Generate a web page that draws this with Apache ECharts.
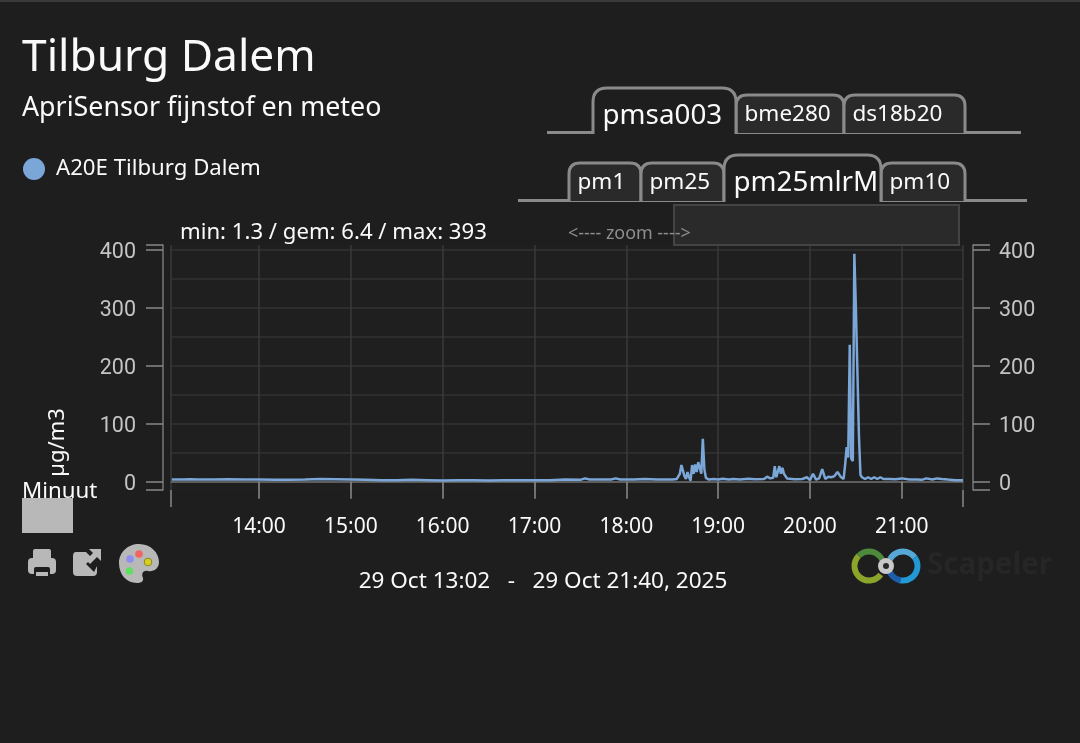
<!DOCTYPE html>
<html><head><meta charset="utf-8">
<style>html,body{margin:0;padding:0;background:#1e1e1e}#c{width:1080px;height:743px}</style>
<script src="https://cdn.jsdelivr.net/npm/echarts@6/dist/echarts.min.js"></script>
</head><body><div id="c"></div>
<script>
const day = '2025-10-29T';
const seriesName = 'A20E Tilburg Dalem';
const sampleTimes = ['13:03','13:10','13:15','13:20','13:30','13:40','13:50','14:00','14:10','14:20','14:30','14:40','14:50','15:00','15:10','15:20','15:30','15:40','15:50','16:00','16:10','16:20','16:30','16:40','16:50','17:00','17:10','17:20','17:30','17:33','17:36','17:50','17:53','17:56','18:05','18:12','18:20','18:30','18:33','18:35','18:36','18:37','18:38','18:39','18:40','18:41','18:42','18:43','18:44','18:45','18:46','18:47','18:48','18:49','18:50','18:51','18:52','18:54','18:57','19:00','19:03','19:07','19:10','19:14','19:20','19:24','19:30','19:32','19:34','19:36','19:37','19:38','19:39','19:40','19:41','19:42','19:43','19:45','19:50','19:55','19:58','20:00','20:02','20:04','20:06','20:08','20:10','20:12','20:14','20:16','20:18','20:20','20:22','20:23','20:24','20:25','20:26','20:27','20:28','20:29','20:30','20:31','20:32','20:33','20:34','20:36','20:38','20:40','20:42','20:44','20:46','20:48','20:52','20:56','21:00','21:05','21:10','21:13','21:16','21:20','21:23','21:26','21:30','21:35','21:40'];
const pmValues = [4,4,4.5,4,4,4.5,4,4,3.5,3.5,4,5,4.5,4,3.5,3,3,3.5,3,2.5,3,3,2.5,3,3,3,3,4,3.5,6,4,4,6,4,4,5,4,4,5,14,29,31,10,5,17,8,2,29,14,30,17,34,36,14,74,22,7,4,5,4,5.5,4,5,4,5.5,4.5,5,9,6,7,27,8,6,27,14,24,14,6,4.5,5,8,3,14,4,6,22,5,9,8,10,17,9,5,30,60,42,236,40,36,393,300,190,80,12,8,5,8,5,8,5,8,5,5,4.5,6,4,4,3.5,6,4,6,5,4,3,3,3];
const yTicks = [0,100,200,300,400];
const gridValues = [0,50,100,150,200,250,300,350,400];
const xStart = '13:02:30', xEnd = '21:40:00';
const yMin = -14, yMax = 408;
const subtitleText = 'ApriSensor fijnstof en meteo';
const statsText = 'min: 1.3 / gem: 6.4 / max: 393';
const rangeText = '29 Oct 13:02   -   29 Oct 21:40, 2025';

const ts = s => new Date(day + (s.length === 5 ? s + ':00' : s)).getTime();
const pad = n => String(n).padStart(2, '0');
const FONT = '"Noto Sans"';
const BG = '#1e1e1e';
const TXT = '#fafafa';

echarts.graphic.registerShape('svgd', echarts.graphic.extendShape({
  shape:{d:''},
  buildPath(ctx, shape){
    const parts = shape.d.match(/[MLQCZ]|-?[\d.]+/g) || [];
    let i = 0; const n = () => parseFloat(parts[i++]);
    while (i < parts.length) {
      const c = parts[i++];
      if (c === 'M') ctx.moveTo(n(), n());
      else if (c === 'L') ctx.lineTo(n(), n());
      else if (c === 'Q') ctx.quadraticCurveTo(n(), n(), n(), n());
      else if (c === 'C') ctx.bezierCurveTo(n(), n(), n(), n(), n(), n());
      else if (c === 'Z') ctx.closePath();
    }
  }
}));

function tabPath(x0, x1, top, bot, r) {
  return `M${x0} ${bot}L${x0} ${top + r}Q${x0} ${top} ${x0 + r} ${top}L${x1 - r} ${top}Q${x1} ${top} ${x1} ${top + r}L${x1} ${bot}`;
}
function tab(x0, x1, top, bot, label, active) {
  const size = active ? 27.8 : 22.5;
  return [
    {type:'svgd', shape:{d:tabPath(x0,x1,top,bot,active?14:11)}, style:{fill:active?BG:'#2a2a2a', stroke:'#8a8a8a', lineWidth:3}, z:active?12:11},
    {type:'text', x:x0+(active?9.5:8.5), y:(active?top+28:top+20), style:{text:label, font:`${size}px ${FONT}`, fill:TXT, textVerticalAlign:'middle'}, z:13}
  ];
}
const hline = (x0,x1,y) => ({type:'line', shape:{x1:x0,y1:y,x2:x1,y2:y}, style:{stroke:'#8a8a8a', lineWidth:3}, z:10});
const endTick = x => ({type:'line', shape:{x1:x,y1:490,x2:x,y2:507}, style:{stroke:'#8a8a8a', lineWidth:1.5}, z:4});
const ring = (cx,cy,a0,a1,color) => ({type:'arc', shape:{cx,cy,r:14.5,startAngle:a0,endAngle:a1}, style:{stroke:color, lineWidth:6, fill:null}, z:5});

const graphics = [
  {type:'rect', shape:{x:0,y:0,width:1080,height:2}, style:{fill:'#3a3a3a'}},
  hline(547,1021,132.5), hline(518,1027,200.5),
  endTick(171), endTick(963),
  ...tab(736,844,95,133,'bme280',false),
  ...tab(844,965,95,133,'ds18b20',false),
  ...tab(593,736,88,134,'pmsa003',true),
  ...tab(569,641,163,201,'pm1',false),
  ...tab(641,724,163,201,'pm25',false),
  ...tab(881,965,163,201,'pm10',false),
  ...tab(724,881,155,202,'pm25mlrM',true),
  {type:'rect', shape:{x:674,y:205,width:285,height:40}, style:{fill:'#2a2a2a', stroke:'#444', lineWidth:2}, z:14},
  {type:'text', x:568, y:234, style:{text:'<---- zoom ---->', font:`17.9px ${FONT}`, fill:'#8e8e8e', textVerticalAlign:'middle'}, z:15},
  {type:'text', x:180, y:233, style:{text:statsText, font:`22.15px ${FONT}`, fill:TXT, textVerticalAlign:'middle'}, z:15},
  {type:'text', x:22, y:491.5, style:{text:'Minuut', font:`22.3px ${FONT}`, fill:TXT, textVerticalAlign:'middle'}, z:15},
  {type:'rect', shape:{x:22,y:498,width:51,height:35}, style:{fill:'#b8b8b8'}, z:16},
  {type:'text', x:543, y:582, style:{text:rangeText, font:`22.5px ${FONT}`, fill:TXT, textAlign:'center', textVerticalAlign:'middle'}, z:15},
  // printer
  {type:'rect', shape:{x:33,y:549,width:18,height:12,r:2}, style:{fill:'#b8b8b8'}},
  {type:'rect', shape:{x:28,y:558,width:28,height:16,r:4}, style:{fill:'#b8b8b8'}},
  {type:'rect', shape:{x:34,y:567,width:16,height:9,r:2}, style:{fill:BG}, z:1},
  {type:'rect', shape:{x:36,y:572,width:12,height:4}, style:{fill:'#b8b8b8'}, z:2},
  // export
  {type:'svgd', shape:{d:'M76 552L86 552L92 558L86 564L94 572L97 566L97 572Q97 576 93 576L77 576Q73 576 73 572L73 556Q73 552 76 552Z'}, style:{fill:'#b8b8b8'}},
  {type:'svgd', shape:{d:'M89 549L101 549L101 561L97 557L90 564L86 560L93 553Z'}, style:{fill:'#b8b8b8'}},
  // palette
  {type:'svgd', shape:{d:'M139 544C151 544 159 553 159 562C159 569 153 572 148 571C143 570 141 574 143 578C144 582 140 583 137 583C126 583 119 574 119 563C119 552 128 544 139 544Z'}, style:{fill:'#b8b8b8'}},
  {type:'circle', shape:{cx:139,cy:554,r:3.8}, style:{fill:'#f06464'}, z:1},
  {type:'circle', shape:{cx:130,cy:559,r:3.8}, style:{fill:'#8f8ff0'}, z:1},
  {type:'circle', shape:{cx:148,cy:562,r:3.8}, style:{fill:'#d8cf1e', stroke:'#8a8520', lineWidth:1}, z:1},
  {type:'circle', shape:{cx:129.5,cy:571,r:3.8}, style:{fill:'#5fe05f'}, z:1},
  // logo
  ring(869,566,Math.PI*0.2,Math.PI*1.25,'#8ba52b'),
  ring(869,566,Math.PI*1.25,Math.PI*1.85,'#4e8a3c'),
  ring(903,566,Math.PI*1.15,Math.PI*1.8,'#56a8d6'),
  ring(903,566,Math.PI*1.8,Math.PI*2.6,'#2298d4'),
  ring(903,566,Math.PI*0.55,Math.PI*0.95,'#1c5eaa'),
  {type:'circle', shape:{cx:886,cy:566,r:8}, style:{fill:'#c9c9c9'}, z:6},
  {type:'circle', shape:{cx:886,cy:566,r:3}, style:{fill:'#2a2a2a'}, z:7},
  {type:'text', x:927, y:566, style:{text:'Scapeler', font:`bold 29.5px ${FONT}`, fill:'#262626', textVerticalAlign:'middle'}, z:5}
];

const yLabel = margin => ({
  customValues:yTicks, margin,
  formatter:v=>`{a|${v}}`,
  rich:{a:{color:'#c4c4c4', fontFamily:'Roboto', fontSize:21.5, padding:[6,0,0,0]}}
});
const yAxisCommon = {
  type:'value', min:yMin, max:yMax,
  axisLine:{show:true, lineStyle:{color:'#777', width:1.5}},
  axisTick:{show:true, length:17, customValues:[yMin,...yTicks,yMax], lineStyle:{color:'#888', width:1.5}},
  splitLine:{show:false}
};

const chart = echarts.init(document.getElementById('c'), null, {renderer:'canvas', width:1080, height:743});
chart.setOption({
  animation:false,
  backgroundColor:BG,
  title:{text:'Tilburg Dalem', subtext:subtitleText, left:22, top:36, itemGap:15, padding:0,
    textStyle:{color:TXT, fontFamily:FONT, fontSize:44.3, fontWeight:'normal'},
    subtextStyle:{color:TXT, fontFamily:FONT, fontSize:26.8}},
  legend:{left:23, top:158, padding:0, icon:'circle', itemWidth:22, itemHeight:22, data:[seriesName], selectedMode:false,
    textStyle:{color:TXT, fontFamily:FONT, fontSize:22.2, padding:[0,0,0,6]}},
  grid:{left:171, top:245, width:792, height:245, show:true, backgroundColor:'#1f1f1f', borderWidth:0},
  xAxis:{type:'time', min:ts(xStart), max:ts(xEnd),
    minInterval:3600000, maxInterval:3600000,
    axisLine:{show:true, lineStyle:{color:'#6e6e6e', width:1.5}},
    axisTick:{show:true, length:17, lineStyle:{color:'#8a8a8a', width:1.5}},
    axisLabel:{color:TXT, fontFamily:FONT, fontSize:21, margin:27, hideOverlap:false, showMinLabel:false, showMaxLabel:false,
      formatter:v=>{const d=new Date(v);return d.getMinutes()===0?pad(d.getHours())+':00':'';}},
    splitLine:{show:true, lineStyle:{color:'#3a3a3a', width:1.5}}
  },
  yAxis:[
    {...yAxisCommon, position:'left', offset:8, name:'µg/m3', nameLocation:'middle', nameRotate:90, nameGap:94,
      nameTextStyle:{color:TXT, fontFamily:FONT, fontSize:22, padding:[0,150,0,0]},
      axisLabel:yLabel(27)},
    {...yAxisCommon, position:'right', offset:10, axisLabel:yLabel(26)},
    {type:'value', min:yMin, max:yMax, position:'left',
      axisLine:{show:false}, axisLabel:{show:false},
      axisTick:{show:false, customValues:gridValues},
      splitLine:{show:true, lineStyle:{color:'#2d2d2d', width:2}}}
  ],
  series:[{name:seriesName, type:'line', yAxisIndex:0, showSymbol:false, smooth:false,
    data:sampleTimes.map((t,i)=>[ts(t),pmValues[i]]),
    lineStyle:{color:'#7ba6d8', width:2.5}, itemStyle:{color:'#7ba6d8'}}],
  graphic:graphics
});
</script></body></html>
